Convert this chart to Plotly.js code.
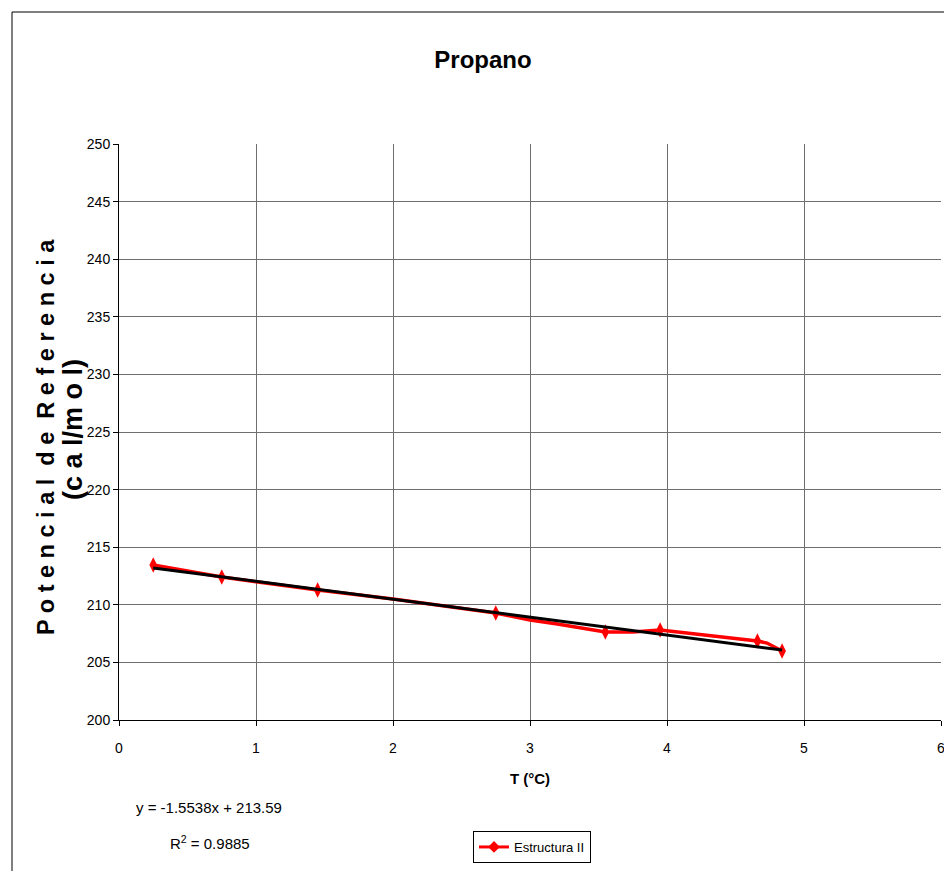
<!DOCTYPE html>
<html>
<head>
<meta charset="utf-8">
<script src="https://cdn.plot.ly/plotly-3.0.1.min.js"></script>
<style>html,body{margin:0;padding:0;background:#fff;}#chart{width:944px;height:871px;}</style>
</head>
<body>
<div id="chart"></div>
<script>
// Red series (line vertices)
const lineT = [0.25, 0.75, 1.0, 1.45, 2.0, 2.75, 3.0, 3.2, 3.55, 3.75, 3.95, 4.48, 4.66, 4.73, 4.84];
const lineP = [213.45, 212.41, 212.0, 211.28, 210.5, 209.29, 208.68, 208.33, 207.64, 207.64, 207.81, 207.12, 206.86, 206.68, 205.99];
// Marked points
const markT = [0.25, 0.75, 1.45, 2.75, 3.55, 3.95, 4.66, 4.84];
const markP = [213.45, 212.41, 211.28, 209.29, 207.64, 207.81, 206.86, 205.99];
// Linear trendline end points
const trendT = [0.25, 4.84];
const trendP = [213.20, 206.07];

const seriesName = "Estructura II";
const xTicks = [0, 1, 2, 3, 4, 5, 6];
const yTicks = [200, 205, 210, 215, 220, 225, 230, 235, 240, 245, 250];
const eqText = "y = -1.5538x + 213.59";
const r2Text = "R<sup>2</sup> = 0.9885";

const FONT = "Liberation Sans Narrow, Arial Narrow, Liberation Sans, Arial, sans-serif";

const traces = [
  {x: lineT, y: lineP, mode: "lines", line: {color: "#ff0000", width: 3.5}, showlegend: false, hoverinfo: "skip"},
  {x: markT, y: markP, mode: "markers", marker: {symbol: "diamond-tall", color: "#ff0000", size: 11}, showlegend: false},
  {x: trendT, y: trendP, mode: "lines", line: {color: "#000000", width: 3}, showlegend: false},
  {x: [null], y: [null], mode: "lines+markers", name: seriesName,
   line: {color: "#ff0000", width: 3}, marker: {symbol: "diamond", color: "#ff0000", size: 9}}
];

const layout = {
  width: 944, height: 871,
  margin: {l: 119, r: 3, t: 144, b: 151},
  paper_bgcolor: "#ffffff", plot_bgcolor: "#ffffff",
  font: {family: FONT, color: "#000", size: 14},
  title: {text: "<b>Propano</b>", x: 483/944, xref: "container", xanchor: "center",
          y: 1 - 60/871, yref: "container", yanchor: "middle",
          font: {family: FONT, size: 24, color: "#000"}},
  xaxis: {range: [0, 6], tickvals: xTicks, ticktext: xTicks.map(String),
          showgrid: true, gridcolor: "#6e6e6e", gridwidth: 1,
          showline: true, linecolor: "#000", linewidth: 1,
          ticks: "outside", ticklen: 5, tickcolor: "#000", ticklabelstandoff: 10,
          ticklabeloverflow: "allow",
          zeroline: false, fixedrange: true,
          tickfont: {family: FONT, size: 14},
          title: {text: "<b>T (°C)</b>", standoff: 18, font: {family: FONT, size: 15}}},
  yaxis: {range: [200, 250], tickvals: yTicks, ticktext: yTicks.map(String),
          showgrid: true, gridcolor: "#6e6e6e", gridwidth: 1,
          showline: true, linecolor: "#000", linewidth: 1,
          ticks: "outside", ticklen: 5, tickcolor: "#000", ticklabelstandoff: 0,
          zeroline: false, fixedrange: true,
          tickfont: {family: FONT, size: 14}},
  legend: {x: (473-119)/822, y: (720-831)/576, xanchor: "left", yanchor: "top",
           bordercolor: "#000", borderwidth: 1, bgcolor: "#fff",
           font: {family: FONT, size: 13}},
  annotations: [
    {text: "<b>P o t e n c i a l  d e  R e f e r e n c i a</b>", textangle: -90,
     xref: "paper", yref: "paper", x: (46-119)/822, y: (720-437)/576,
     xanchor: "center", yanchor: "middle", showarrow: false,
     font: {family: FONT, size: 23.5}},
    {text: "<b>(c a l/m o l)</b>", textangle: -90,
     xref: "paper", yref: "paper", x: (73-119)/822, y: (720-430)/576,
     xanchor: "center", yanchor: "middle", showarrow: false,
     font: {family: FONT, size: 27}},
    {text: eqText, xref: "paper", yref: "paper", x: (209-119)/822, y: (720-807)/576,
     xanchor: "center", yanchor: "middle", showarrow: false, font: {family: FONT, size: 15}},
    {text: r2Text, xref: "paper", yref: "paper", x: (210-119)/822, y: (720-842)/576,
     xanchor: "center", yanchor: "middle", showarrow: false, font: {family: FONT, size: 15}}
  ],
  shapes: [
    {type: "line", xref: "paper", yref: "paper", x0: (12-119)/822, x1: (944-119)/822,
     y0: (720-12)/576, y1: (720-12)/576, line: {color: "#000", width: 1}},
    {type: "line", xref: "paper", yref: "paper", x0: (12-119)/822, x1: (12-119)/822,
     y0: (720-12)/576, y1: (720-871)/576, line: {color: "#000", width: 1}}
  ]
};

Plotly.newPlot("chart", traces, layout, {displayModeBar: false, staticPlot: true});
</script>
</body>
</html>
